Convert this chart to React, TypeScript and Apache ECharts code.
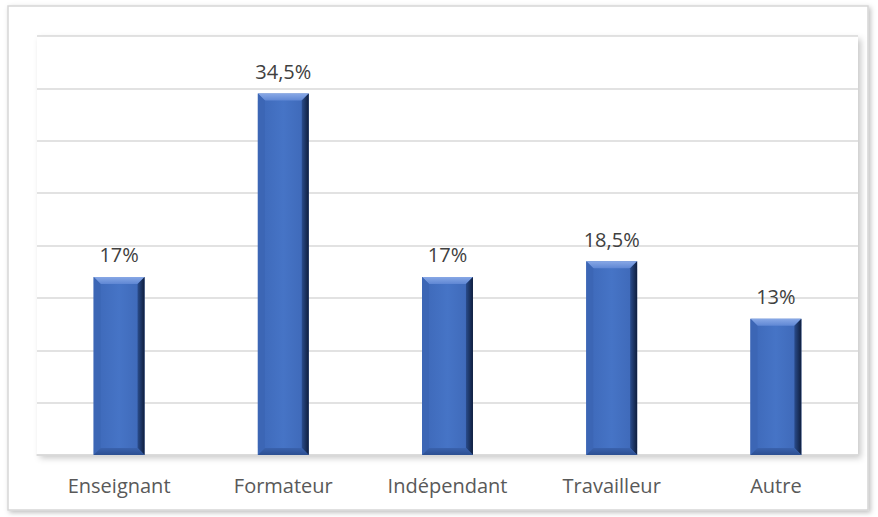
import React, { useEffect, useRef } from "react";
import * as echarts from "echarts";

const categories = ["Enseignant", "Formateur", "Indépendant", "Travailleur", "Autre"];
const values = [17, 34.5, 17, 18.5, 13];
const valueLabels = ["17%", "34,5%", "17%", "18,5%", "13%"];
const axisMax = 40;
const axisInterval = 5;

export default function App() {
  const ref = useRef<HTMLDivElement>(null);
  useEffect(() => {
    if (!ref.current) return;
    const chart = echarts.init(ref.current, undefined, { renderer: "svg" });
    const font = "'Open Sans', 'Noto Sans', sans-serif";
    chart.setOption({
      animation: false,
      backgroundColor: "#ffffff",
      graphic: [
        {
          type: "rect",
          shape: { x: 8, y: 6, width: 860, height: 504 },
          style: {
            fill: "#ffffff",
            stroke: "#d6d6d6",
            lineWidth: 1.5,
            shadowBlur: 5,
            shadowOffsetX: 2,
            shadowOffsetY: 2,
            shadowColor: "rgba(0,0,0,0.25)",
          },
          z: -10,
          silent: true,
        },
      ],
      grid: {
        left: 37,
        right: 20,
        top: 36,
        bottom: 62,
        show: true,
        backgroundColor: "#ffffff",
        borderWidth: 0,
        shadowBlur: 6,
        shadowOffsetX: 3,
        shadowOffsetY: 3,
        shadowColor: "rgba(0,0,0,0.22)",
      },
      xAxis: {
        type: "category",
        data: categories,
        axisTick: { show: false },
        axisLine: { show: true, lineStyle: { color: "#d9d9d9", width: 1.5 } },
        axisLabel: { color: "#595959", fontSize: 20, fontFamily: font, margin: 20 },
      },
      yAxis: {
        type: "value",
        min: 0,
        max: axisMax,
        interval: axisInterval,
        axisLabel: { show: false },
        axisLine: { show: false },
        axisTick: { show: false },
        splitLine: { lineStyle: { color: "#d9d9d9", width: 1.5 } },
      },
      series: [
        {
          type: "custom",
          data: values.map((v, i) => [i, v]),
          renderItem: (params: any, api: any) => {
            const idx = api.value(0);
            const v = api.value(1);
            const top = api.coord([idx, v]);
            const base = api.coord([idx, 0]);
            const bw = api.size([1, 0])[0] * 0.31;
            const x0 = top[0] - bw / 2;
            const x1 = top[0] + bw / 2;
            const y0 = top[1];
            const y1 = base[1];
            const d = 7;
            return {
              type: "group",
              children: [
                {
                  type: "rect",
                  shape: { x: x0, y: y0, width: bw, height: y1 - y0 },
                  style: {
                    fill: new echarts.graphic.LinearGradient(0, 0, 1, 0, [
                      { offset: 0, color: "#3d68b8" },
                      { offset: 0.5, color: "#4674c6" },
                      { offset: 1, color: "#3d67b6" },
                    ]),
                  },
                },
                {
                  type: "polygon",
                  shape: { points: [[x0, y0], [x1, y0], [x1 - d, y0 + d], [x0 + d, y0 + d]] },
                  style: {
                    fill: new echarts.graphic.LinearGradient(0, 0, 0, 1, [
                      { offset: 0, color: "#88a8e6" },
                      { offset: 1, color: "#5f87d4" },
                    ]),
                  },
                },
                {
                  type: "polygon",
                  shape: { points: [[x0, y0], [x0 + d, y0 + d], [x0 + d, y1 - d], [x0, y1]] },
                  style: { fill: "#3c66b5" },
                },
                {
                  type: "polygon",
                  shape: { points: [[x1, y0], [x1, y1], [x1 - d, y1 - d], [x1 - d, y0 + d]] },
                  style: {
                    fill: new echarts.graphic.LinearGradient(0, 0, 1, 0, [
                      { offset: 0, color: "#2a4c8c" },
                      { offset: 1, color: "#0f1e3d" },
                    ]),
                  },
                },
                {
                  type: "polygon",
                  shape: { points: [[x0, y1], [x1, y1], [x1 - d, y1 - d], [x0 + d, y1 - d]] },
                  style: {
                    fill: new echarts.graphic.LinearGradient(0, 0, 0, 1, [
                      { offset: 0, color: "#3a62ad" },
                      { offset: 1, color: "#2c4f92" },
                    ]),
                  },
                },
                {
                  type: "text",
                  style: {
                    text: valueLabels[idx],
                    x: top[0],
                    y: y0 - 12,
                    align: "center",
                    verticalAlign: "bottom",
                    fontSize: 20,
                    fontFamily: font,
                    fill: "#404040",
                  },
                },
              ],
            };
          },
        },
      ],
    });
    return () => chart.dispose();
  }, []);
  return (
    <div
      ref={ref}
      style={{ position: "fixed", left: 0, top: 0, width: 878, height: 517 }}
    />
  );
}
